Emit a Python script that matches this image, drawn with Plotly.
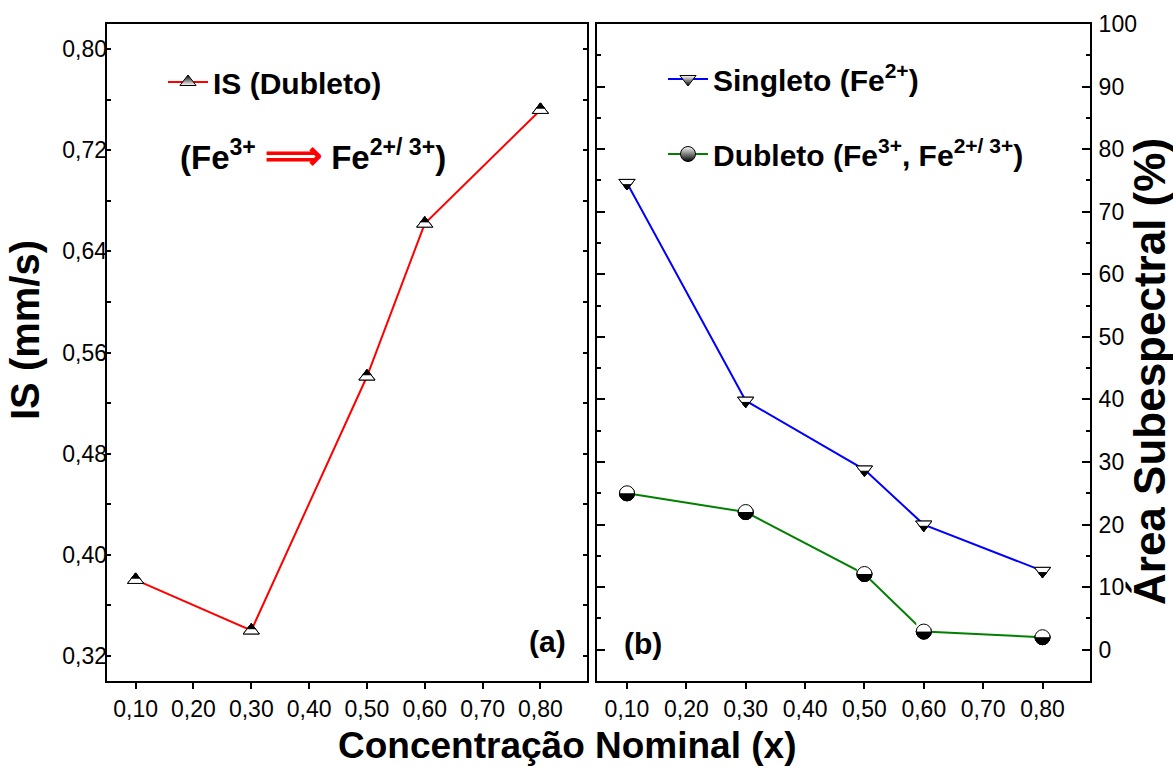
import plotly.graph_objects as go

# ---------------- data ----------------
x_conc = [0.10, 0.30, 0.50, 0.60, 0.80]
is_dubleto = [0.380, 0.340, 0.541, 0.662, 0.752]
area_singleto = [74.6, 39.8, 28.8, 20.0, 12.6]
area_dubleto = [25.0, 22.0, 12.1, 2.9, 2.0]

x_ticks_left = [0.10, 0.20, 0.30, 0.40, 0.50, 0.60, 0.70, 0.80]

FONT = "Liberation Sans, Arial, Helvetica, sans-serif"
W, H = 1173, 767


def px(v):
    return v / W


def py(v):
    return 1 - v / H


TRI = 14
CIR = 15

fig = go.Figure()

# ---------- left panel: IS ----------
fig.add_trace(go.Scatter(
    x=x_conc, y=is_dubleto, mode="lines+markers", name="IS (Dubleto)",
    line=dict(color="#ff0000", width=2),
    marker=dict(symbol="triangle-up", size=TRI, color="black",
                gradient=dict(type="vertical", color="white"),
                line=dict(color="black", width=1)),
    xaxis="x", yaxis="y", legend="legend", hoverinfo="skip"))
fig.add_trace(go.Scatter(
    x=x_conc, y=is_dubleto, mode="markers", showlegend=False, hoverinfo="skip",
    marker=dict(symbol="triangle-up", size=TRI, color="white",
                line=dict(color="black", width=1)),
    xaxis="x", yaxis="y"))
fig.add_trace(go.Scatter(
    x=x_conc, y=is_dubleto, mode="markers", showlegend=False, hoverinfo="skip",
    marker=dict(symbol="triangle-down", angle=180, standoff=TRI / 4, size=TRI / 2,
                color="black", line=dict(color="black", width=1)),
    xaxis="x", yaxis="y"))

# ---------- right panel: areas ----------
fig.add_trace(go.Scatter(
    x=x_conc, y=area_singleto, mode="lines+markers", name="Singleto (Fe<sup>2+</sup>)",
    line=dict(color="#0000ff", width=2),
    marker=dict(symbol="triangle-down", size=TRI, color="white",
                gradient=dict(type="vertical", color="black"),
                line=dict(color="black", width=1)),
    xaxis="x2", yaxis="y2", legend="legend2", legendgroup="a", hoverinfo="skip"))
fig.add_trace(go.Scatter(
    x=x_conc, y=area_dubleto, mode="lines+markers",
    name="Dubleto (Fe<sup>3+</sup>, Fe<sup>2+/ 3+</sup>)",
    line=dict(color="#008000", width=2),
    marker=dict(symbol="circle", size=CIR, color="white",
                gradient=dict(type="vertical", color="black"),
                line=dict(color="black", width=1)),
    xaxis="x2", yaxis="y2", legend="legend2", legendgroup="b", hoverinfo="skip"))

# composite half-filled markers (singleto)
fig.add_trace(go.Scatter(
    x=x_conc, y=area_singleto, mode="markers", showlegend=False, hoverinfo="skip",
    marker=dict(symbol="triangle-down", size=TRI, color="white",
                line=dict(color="black", width=1)),
    xaxis="x2", yaxis="y2"))
fig.add_trace(go.Scatter(
    x=x_conc, y=area_singleto, mode="markers", showlegend=False, hoverinfo="skip",
    marker=dict(symbol="triangle-down", angle=0, standoff=TRI / 4, size=TRI / 2,
                color="black", line=dict(color="black", width=1)),
    xaxis="x2", yaxis="y2"))
# composite half-filled markers (dubleto)
fig.add_trace(go.Scatter(
    x=x_conc, y=area_dubleto, mode="markers", showlegend=False, hoverinfo="skip",
    marker=dict(symbol="circle", size=CIR, color="black",
                line=dict(color="black", width=1)),
    xaxis="x2", yaxis="y2"))
fig.add_trace(go.Scatter(
    x=x_conc, y=area_dubleto, mode="markers", showlegend=False, hoverinfo="skip",
    marker=dict(symbol="square", angle=180, standoff=CIR / 2, size=CIR,
                color="white", line=dict(color="white", width=0)),
    xaxis="x2", yaxis="y2"))
fig.add_trace(go.Scatter(
    x=x_conc, y=area_dubleto, mode="markers", showlegend=False, hoverinfo="skip",
    marker=dict(symbol="circle", size=CIR, color="rgba(0,0,0,0)",
                line=dict(color="black", width=1)),
    xaxis="x2", yaxis="y2"))

# ---------------- axes ----------------
tickfont = dict(family=FONT, size=23, color="black")
xr = [0.05, 0.88]
ydom = [py(681), py(24)]
dom_left = [px(106.7), px(586.7)]
dom_right = [px(597.3), px(1090)]

xcommon = dict(range=xr, tickmode="array", tickvals=x_ticks_left, tickformat=".2f",
               ticks="outside", ticklen=6, tickwidth=1.5, tickcolor="black",
               showline=True, linecolor="black", linewidth=2, mirror=True,
               showgrid=False, zeroline=False, tickfont=tickfont, automargin=False,
               fixedrange=True)
xtop = dict(range=xr, tickmode="array", tickvals=x_ticks_left, ticks="inside", ticklen=6,
            tickwidth=1.5, tickcolor="black", showticklabels=False, showline=False,
            showgrid=False, zeroline=False, side="top", automargin=False)

fig.update_layout(
    width=W, height=H,
    margin=dict(l=0, r=0, t=0, b=0),
    paper_bgcolor="white", plot_bgcolor="white",
    separators=", ",
    font=dict(family=FONT, color="black"),
    xaxis=dict(domain=dom_left, anchor="y", **xcommon),
    xaxis2=dict(domain=dom_right, anchor="y2", **xcommon),
    xaxis3=dict(overlaying="x", anchor="y", matches="x", **xtop),
    xaxis4=dict(overlaying="x2", anchor="y2", matches="x2", **xtop),
    yaxis=dict(domain=ydom, anchor="x", range=[0.30, 0.82], tick0=0.32, dtick=0.08,
               tickformat=".2f", ticks="inside", ticklen=4, tickwidth=1.5, tickcolor="black",
               minor=dict(dtick=0.04, ticks="inside", ticklen=4, tickwidth=1.5, tickcolor="black"),
               showline=True, linecolor="black", linewidth=2, mirror="ticks",
               showgrid=False, zeroline=False, tickfont=tickfont, automargin=False,
               fixedrange=True, ticklabelstandoff=-7),
    yaxis2=dict(domain=ydom, anchor="x2", side="right", range=[-5, 100], tick0=0, dtick=10,
                ticks="inside", ticklen=8, tickwidth=1.5, tickcolor="black",
                minor=dict(dtick=5, ticks="inside", ticklen=4, tickwidth=1.5, tickcolor="black"),
                showline=True, linecolor="black", linewidth=2, mirror="ticks",
                showgrid=False, zeroline=False, tickfont=tickfont, automargin=False,
                fixedrange=True, ticklabelstandoff=2),
    legend=dict(x=px(163), y=py(56), xanchor="left", yanchor="top",
                bgcolor="rgba(0,0,0,0)", borderwidth=0, itemwidth=40,
                font=dict(family=FONT, size=30, color="black", weight="bold")),
    legend2=dict(x=px(663), y=py(53), xanchor="left", yanchor="top",
                 bgcolor="rgba(0,0,0,0)", borderwidth=0, tracegroupgap=33, itemwidth=40,
                 font=dict(family=FONT, size=30, color="black", weight="bold")),
    showlegend=True,
)

annots = [
    dict(text="IS (mm/s)", x=px(25), y=py(330), textangle=-90,
         font=dict(family=FONT, size=40, color="black", weight="bold")),
    dict(text="Área Subespectral (%)", x=px(1149), y=py(372), textangle=-90,
         font=dict(family=FONT, size=44, color="black", weight="bold")),
    dict(text="Concentração Nominal (x)", x=px(567), y=py(745),
         font=dict(family=FONT, size=37, color="black", weight="bold")),
    dict(text="(a)", x=px(547), y=py(641),
         font=dict(family=FONT, size=30, color="black", weight="bold")),
    dict(text="(b)", x=px(643), y=py(643),
         font=dict(family=FONT, size=30, color="black", weight="bold")),
    dict(text="(Fe<sup>3+</sup> <span style='color:#ff0000;font-size:40px'>⟹</span> Fe<sup>2+/ 3+</sup>)",
         x=px(313), y=py(155),
         font=dict(family=FONT, size=33, color="black", weight="bold")),
]
for a in annots:
    a.update(xref="paper", yref="paper", showarrow=False, xanchor="center", yanchor="middle")
fig.update_layout(annotations=annots)

fig.write_html("out.html", post_script="document.body.style.margin='0px';",
               config={"displayModeBar": False})
